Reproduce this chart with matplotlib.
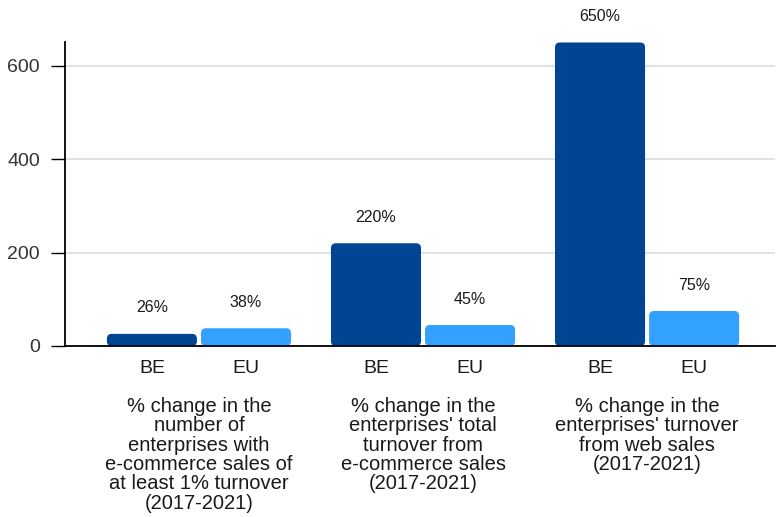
import numpy as np
import matplotlib
matplotlib.use("Agg")
from matplotlib import pyplot as plt
from matplotlib.patches import FancyBboxPatch

plt.rcParams['font.family'] = ['Liberation Sans', 'DejaVu Sans']

groups = [
    "% change in the\nnumber of\nenterprises with\ne-commerce sales of\nat least 1% turnover\n(2017-2021)",
    "% change in the\nenterprises' total\nturnover from\ne-commerce sales\n(2017-2021)",
    "% change in the\nenterprises' turnover\nfrom web sales\n(2017-2021)",
]
series = ["BE", "EU"]
be_values = [26, 220, 650]
eu_values = [38, 45, 75]
colors = ["#004494", "#33a1ff"]

W, H = 776, 517
fig = plt.figure(figsize=(W / 100, H / 100), dpi=100)
ax = fig.add_axes([65 / W, 1 - 346 / H, 710 / W, 304 / H])

x = np.arange(len(groups))
width = 0.402
offset = 0.21
ax.set_xlim(-0.598, 2.571)
ax.set_ylim(0, 651)

# pixels per data unit, used to keep the corner radius round
px_x = 710 / (2.571 + 0.598)
px_y = 304 / 651
radius = 5

bars = []
for i, (vals, col) in enumerate(zip([be_values, eu_values], colors)):
    pos = x + (i * 2 - 1) * offset
    bc = ax.bar(pos, vals, width=width, color=col, alpha=0)
    for rect, v in zip(bc, vals):
        rx, rw, rh = rect.get_x(), rect.get_width(), rect.get_height()
        r = radius / px_x
        patch = FancyBboxPatch((rx + r, r * px_x / px_y), rw - 2 * r,
                               rh - 2 * r * px_x / px_y,
                               boxstyle="round,pad=%f" % r,
                               mutation_aspect=px_x / px_y,
                               fc=col, ec="none", zorder=3)
        ax.add_patch(patch)
        ax.annotate("%d%%" % v, (rx + rw / 2, rh), xytext=(0, 18.7),
                    textcoords="offset points", ha="center", va="center",
                    fontsize=11.5, color="#1a1a1a", annotation_clip=False)
        bars.append(rx + rw / 2)

# series labels under each bar, group labels below them
ax.set_xticks(sorted(bars))
ax.set_xticklabels(series * len(groups))
ax.tick_params(axis="x", length=0, labelsize=14, pad=10, colors="#1a1a1a")
for g, label in zip(x, groups):
    ax.annotate(label, (g, 0), xycoords=("data", "axes fraction"),
                xytext=(0, -36.5), textcoords="offset points",
                ha="center", va="top", fontsize=14.5, linespacing=1.03,
                color="#1a1a1a")

ax.set_yticks([0, 200, 400, 600])
ax.tick_params(axis="y", length=10, width=1, labelsize=14, pad=8,
               labelcolor="#333333")
ax.grid(axis="y", color="#d9d9d9", lw=1.1)
ax.set_axisbelow(True)
for s in ["top", "right"]:
    ax.spines[s].set_visible(False)
for s in ["left", "bottom"]:
    ax.spines[s].set_linewidth(1.3)
    ax.spines[s].set_zorder(4)

plt.savefig("out.png", dpi=100)
